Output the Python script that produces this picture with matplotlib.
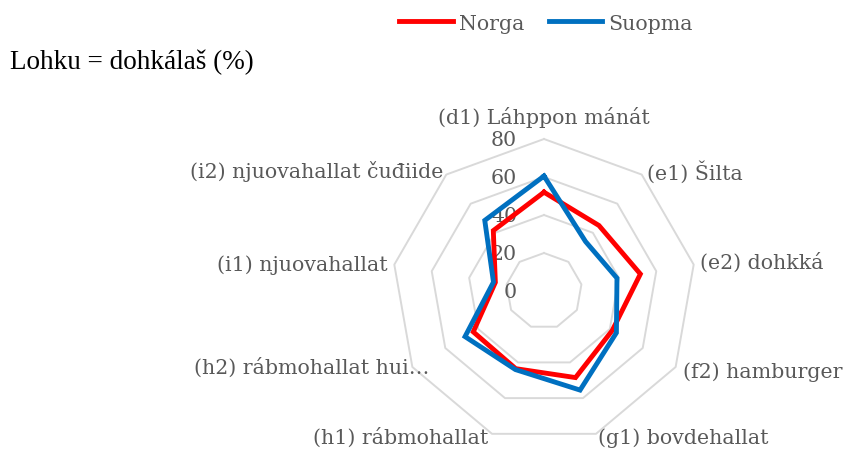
import numpy as np
import matplotlib
matplotlib.use("Agg")
import matplotlib.pyplot as plt

# radar values, clockwise from the top
categories = ["(d1) Láhppon mánát", "(e1) Šilta", "(e2) dohkká", "(f2) hamburger",
              "(g1) bovdehallat", "(h1) rábmohallat", "(h2) rábmohallat hui…",
              "(i1) njuovahallat", "(i2) njuovahallat čuđiide"]
norga = [52, 45, 51.5, 41.5, 48.5, 43.5, 43, 26, 41.5]
suopma = [60.5, 34, 39, 44, 55.5, 44, 48, 27, 48.5]
ticks = [0, 20, 40, 60, 80]

gray = "#595959"
serif = ["DejaVu Serif", "DejaVu Sans"]

n = len(categories)
theta = np.arange(n) * 2 * np.pi / n


def xy(vals):
    vals = np.append(vals, vals[0])
    th = np.append(theta, theta[0])
    return vals * np.sin(th), vals * np.cos(th)


fig = plt.figure(figsize=(8.45, 4.52), dpi=100)
ax = fig.add_axes([0, 0, 1, 1])
scale = 1.9  # px per unit
cx, cy = 544, 292
ax.set_xlim(-cx / scale, (845 - cx) / scale)
ax.set_ylim(-(452 - cy) / scale, cy / scale)
ax.axis("off")

# polygon grid
for t in ticks[1:]:
    gx, gy = xy(np.full(n, t))
    ax.plot(gx, gy, color="#d9d9d9", lw=1.4, zorder=1)

for t in ticks:
    ax.text(-14.2, t, str(t), ha="right", va="center", color=gray,
            fontsize=14.8, family=serif, zorder=2)

x, y = xy(norga)
ax.plot(x, y, color="#ff0000", lw=3.5, solid_joinstyle="miter", label="Norga", zorder=3)
x, y = xy(suopma)
ax.plot(x, y, color="#0070c0", lw=3.5, solid_joinstyle="miter", label="Suopma", zorder=4)

# category labels around the outer ring
offsets = [(0, 12), (2.8, 1.9), (3.3, 1.4), (3.9, -2.1), (1, -1.6),
           (-2.1, -1.6), (8.8, 0), (-3.3, 0), (-1.8, 1.9)]
aligns = ["center", "left", "left", "left", "left", "right", "right", "right", "right"]
rmax = ticks[-1]
for lab, th, (dx, dy), ha in zip(categories, theta, offsets, aligns):
    ax.text(rmax * np.sin(th) + dx, rmax * np.cos(th) + dy, lab, ha=ha, va="center",
            color=gray, fontsize=14.8, family=serif)

fig.text(10 / 845, 1 - 62 / 452, "Lohku = dohkálaš (%)", ha="left", va="center",
         fontsize=19.5, family="Liberation Serif", color="black")

leg = fig.legend(loc="center", bbox_to_anchor=(546 / 845, 1 - 24 / 452), ncol=2,
                 frameon=False, handlelength=2.6, handletextpad=0.3,
                 columnspacing=1.2, prop={"family": serif, "size": 14.8})
for t in leg.get_texts():
    t.set_color(gray)

fig.savefig("out.png", dpi=100)
